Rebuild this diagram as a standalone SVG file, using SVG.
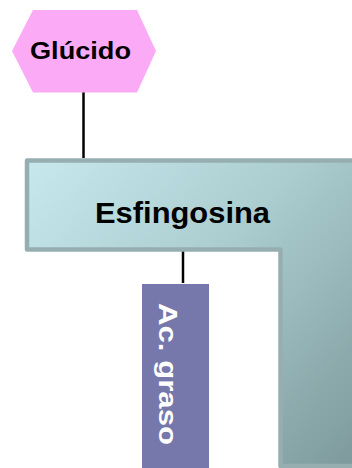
<svg xmlns="http://www.w3.org/2000/svg" width="352" height="468" viewBox="0 0 352 468">
<defs>
<linearGradient id="gEsf" x1="27" y1="160" x2="352" y2="468" gradientUnits="userSpaceOnUse">
<stop offset="0" stop-color="#c7e8ec"/>
<stop offset="0.45" stop-color="#abcdd0"/>
<stop offset="1" stop-color="#7d999b"/>
</linearGradient>
<style>
.lbl{font-family:"Liberation Sans",Arial,sans-serif;font-weight:bold;}
.conn{stroke:#000;stroke-width:2.5;fill:none;}
</style>
</defs>
<rect width="352" height="468" fill="#fff"/>
<g id="connectors">
<line class="conn" x1="83.5" y1="92" x2="83.5" y2="158"/>
<line class="conn" x1="183" y1="251" x2="183" y2="283"/>
</g>
<g id="glucido">
<polygon points="33,10 137,10 156,51 137,92.5 33,92.5 12,51" fill="#fbabf6"/>
<text class="lbl" x="80.5" y="59.3" font-size="24" text-anchor="middle" textLength="101" lengthAdjust="spacingAndGlyphs" fill="#000">Glúcido</text>
</g>
<g id="esfingosina">
<path d="M27,160.5 H358 V466 H280.5 V249.5 H27 Z" fill="url(#gEsf)" stroke="#97aeb1" stroke-width="4.5" stroke-linejoin="round"/>
<text class="lbl" x="182.5" y="223.3" font-size="29" text-anchor="middle" textLength="175" lengthAdjust="spacingAndGlyphs" fill="#000">Esfingosina</text>
</g>
<g id="acgraso">
<rect x="142" y="284" width="67" height="184" fill="#7678ab"/>
<text class="lbl" transform="translate(158.5,374) rotate(90)" font-size="25" text-anchor="middle" textLength="142" lengthAdjust="spacingAndGlyphs" fill="#fff">Ac. graso</text>
</g>
</svg>
